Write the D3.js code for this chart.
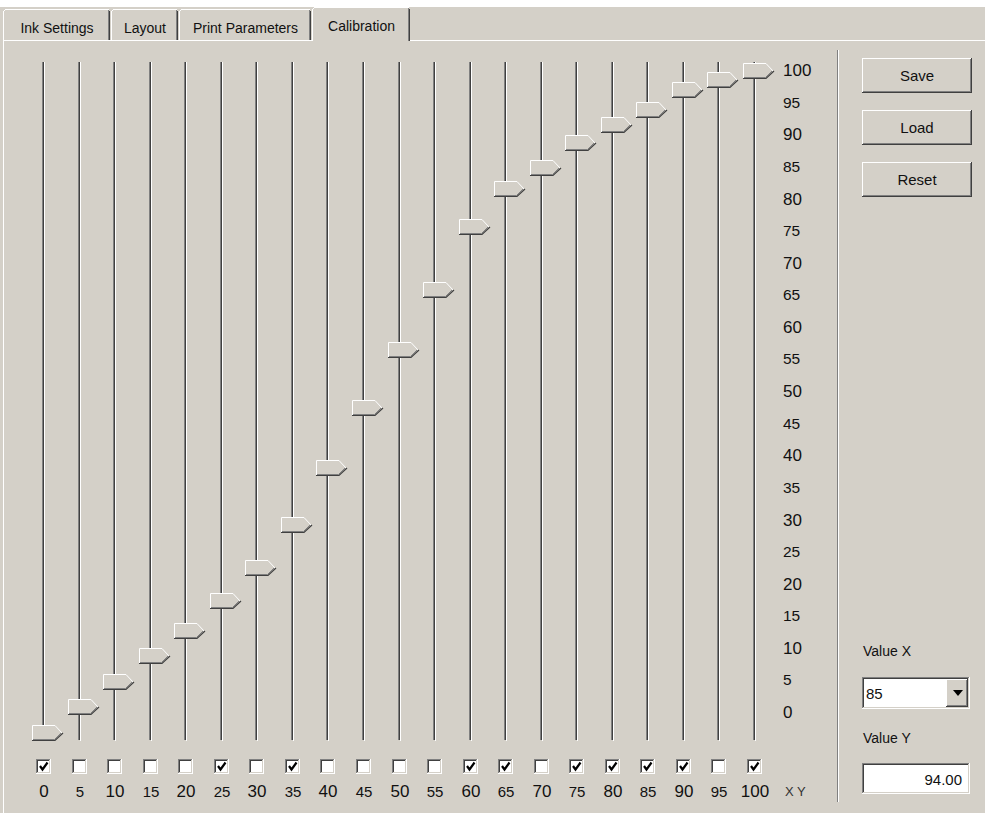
<!DOCTYPE html>
<meta charset="utf-8">
<style>
  body { margin: 0; background: #d4d0c8; }
  svg { display: block; font-family: "Liberation Sans", Arial, sans-serif; }
</style>
<script src="https://cdn.jsdelivr.net/npm/d3@7"></script>
<div id="panel"></div>
<script>
const xLevels = [0, 5, 10, 15, 20, 25, 30, 35, 40, 45, 50, 55, 60, 65, 70, 75, 80, 85, 90, 95, 100];
const yLevels = [0, 3.9, 7.7, 11.6, 15.3, 19.9, 24.9, 31.4, 40.0, 49.0, 57.8, 66.9, 76.4, 82.1, 85.3, 89.1, 91.8, 94.0, 97.1, 98.6, 100];
const enabled = [1, 0, 0, 0, 0, 1, 0, 1, 0, 0, 0, 0, 1, 1, 0, 1, 1, 1, 1, 0, 1];
const scaleTicks = [0, 5, 10, 15, 20, 25, 30, 35, 40, 45, 50, 55, 60, 65, 70, 75, 80, 85, 90, 95, 100];
const tabNames = ["Ink Settings", "Layout", "Print Parameters", "Calibration"];
const buttonNames = ["Save", "Load", "Reset"];
const selectedX = 85;

var W = 985, H = 813;
var FACE = "#d4d0c8", SHADOW = "#808080", DARK = "#404040";

var svg = d3.select("#panel").append("svg")
    .attr("width", W)
    .attr("height", H)
    .attr("shape-rendering", "crispEdges");

// scales
var x = d3.scalePoint().domain(xLevels).range([44, 755]);
var yThumb = d3.scaleLinear().domain([0, 100]).range([732.5, 70.7]);
var yLabel = d3.scaleLinear().domain([0, 100]).range([712, 70]);

// 3D box like the old windows controls
function bevel(g, bx, by, w, h, sunken, fill) {
    var o1 = sunken ? SHADOW : "#ffffff", o2 = sunken ? "#ffffff" : DARK;
    var i1 = sunken ? DARK : FACE, i2 = sunken ? FACE : SHADOW;
    g.append("rect").attr("x", bx).attr("y", by).attr("width", w).attr("height", h).attr("fill", fill || FACE);
    g.append("path").attr("d", `M${bx + .5},${by + h - 1}V${by + .5}H${bx + w - 1}`).attr("stroke", o1).attr("fill", "none");
    g.append("path").attr("d", `M${bx},${by + h - .5}H${bx + w - .5}V${by}`).attr("stroke", o2).attr("fill", "none");
    g.append("path").attr("d", `M${bx + 1.5},${by + h - 2}V${by + 1.5}H${bx + w - 2}`).attr("stroke", i1).attr("fill", "none");
    g.append("path").attr("d", `M${bx + 1},${by + h - 1.5}H${bx + w - 1.5}V${by + 1}`).attr("stroke", i2).attr("fill", "none");
}

/**
 * tab strip
 */
var tabEdges = [3, 111, 179, 312, 411];
var sel = tabNames.length - 1;
svg.append("rect").attr("x", 0).attr("y", 0).attr("width", W).attr("height", 7).attr("fill", "#ffffff");

var tabs = svg.append("g");
tabNames.forEach(function(name, i) {
    var x0 = tabEdges[i], x1 = tabEdges[i + 1];
    var top = i === sel ? 7 : 9;
    var bot = i === sel ? 41 : 40;
    var t = tabs.append("g");
    t.append("rect").attr("x", x0).attr("y", top).attr("width", x1 - x0).attr("height", bot - top).attr("fill", FACE);
    t.append("path").attr("d", `M${x0 + .5},${bot}V${top + 2.5}L${x0 + 2.5},${top + .5}H${x1 - 2}`)
        .attr("stroke", "#ffffff").attr("fill", "none");
    t.append("path").attr("d", `M${x1 - 1.5},${top + 2}V${bot}`).attr("stroke", DARK).attr("fill", "none");
    t.append("path").attr("d", `M${x1 - 2.5},${top + 1}V${bot}`).attr("stroke", SHADOW).attr("fill", "none");
    t.append("text")
        .attr("x", (x0 + x1) / 2)
        .attr("y", i === sel ? 31 : 33)
        .attr("text-anchor", "middle")
        .attr("font-size", 14)
        .attr("fill", "#111")
        .text(name);
});

// panel border (white top line broken under the selected tab) and left edge
svg.append("path").attr("d", `M3.5,${H}V40.5H${tabEdges[sel]}M${tabEdges[sel + 1] - 1},40.5H${W}`)
    .attr("stroke", "#ffffff").attr("fill", "none");

/**
 * slider tracks
 */
var tracks = svg.append("g").attr("class", "tracks");
tracks.selectAll("g").data(xLevels).enter().append("g")
    .each(function(d) {
        var g = d3.select(this), cx = Math.round(x(d));
        g.append("line").attr("x1", cx - 1.5).attr("x2", cx - 1.5).attr("y1", 62).attr("y2", 740).attr("stroke", SHADOW);
        g.append("line").attr("x1", cx - .5).attr("x2", cx - .5).attr("y1", 62).attr("y2", 740).attr("stroke", DARK);
        g.append("line").attr("x1", cx + .5).attr("x2", cx + .5).attr("y1", 62).attr("y2", 741).attr("stroke", "#ffffff");
    });

/**
 * thumbs, pointing right at the value scale
 */
var thumbs = svg.append("g").attr("class", "thumbs").attr("shape-rendering", "auto");
thumbs.selectAll("g").data(xLevels).enter().append("g")
    .each(function(d, i) {
        var g = d3.select(this);
        var cx = Math.round(x(d)), cy = Math.round(yThumb(yLevels[i]));
        var L = cx - 12, R = cx + 11, tip = cx + 19, T = cy - 8, B = cy + 8;
        g.append("path").attr("d", `M${L},${T}H${R}L${tip},${cy}L${R},${B}H${L}Z`).attr("fill", FACE);
        g.append("path").attr("d", `M${L + .5},${B - 1}V${T + .5}H${R}L${tip - 1},${cy}`)
            .attr("stroke", "#ffffff").attr("fill", "none");
        g.append("path").attr("d", `M${tip - 2},${cy}L${R - .5},${B - 1.5}H${L + 1}`)
            .attr("stroke", SHADOW).attr("fill", "none");
        g.append("path").attr("d", `M${tip},${cy}L${R},${B - .5}H${L}`)
            .attr("stroke", DARK).attr("stroke-width", 1.2).attr("fill", "none");
    });

/**
 * value scale on the right of the sliders
 */
svg.append("g").attr("class", "y-labels")
    .selectAll("text").data(scaleTicks).enter().append("text")
    .attr("x", 783)
    .attr("y", d => yLabel(d))
    .attr("dy", "0.36em")
    .attr("font-size", d => d % 10 === 0 ? 17 : 15.5)
    .attr("fill", "#111")
    .text(d => d);

/**
 * checkboxes + level labels
 */
var boxes = svg.append("g").attr("class", "checks");
boxes.selectAll("g").data(xLevels).enter().append("g")
    .each(function(d, i) {
        var g = d3.select(this), cx = Math.round(x(d));
        bevel(g, cx - 8, 759, 15, 15, true, "#ffffff");
        if (enabled[i]) {
            g.append("path")
                .attr("d", `M${cx - 4},${766}L${cx - 1.5},${769.5}L${cx + 3.5},${762.5}`)
                .attr("stroke", "#000").attr("stroke-width", 2.2).attr("fill", "none")
                .attr("shape-rendering", "auto");
        }
        g.append("text")
            .attr("x", cx)
            .attr("y", 797)
            .attr("text-anchor", "middle")
            .attr("font-size", d % 10 === 0 ? 17 : 15)
            .attr("fill", "#111")
            .text(d);
    });
svg.append("text").attr("x", 785).attr("y", 796).attr("font-size", 13).attr("fill", "#333").text("X Y");

/**
 * right side: separator, buttons, value fields
 */
svg.append("line").attr("x1", 837.5).attr("x2", 837.5).attr("y1", 50).attr("y2", 802).attr("stroke", SHADOW);
svg.append("line").attr("x1", 838.5).attr("x2", 838.5).attr("y1", 50).attr("y2", 802).attr("stroke", "#ffffff");

var btns = svg.append("g").attr("class", "buttons");
buttonNames.forEach(function(name, i) {
    var g = btns.append("g"), by = 58 + i * 52;
    bevel(g, 862, by, 110, 35, false);
    g.append("text")
        .attr("x", 917).attr("y", by + 17.5).attr("dy", "0.36em")
        .attr("text-anchor", "middle").attr("font-size", 15).attr("fill", "#111")
        .text(name);
});

var fields = svg.append("g").attr("class", "fields");
fields.append("text").attr("x", 863).attr("y", 656).attr("font-size", 14).attr("fill", "#111").text("Value X");
bevel(fields, 862, 677, 108, 32, true, "#ffffff");
fields.append("text").attr("x", 866).attr("y", 699).attr("font-size", 15).attr("fill", "#111").text(selectedX);
var dd = fields.append("g");
bevel(dd, 946, 679, 22, 28, false);
dd.append("path").attr("d", "M953,690H963L958,696Z").attr("fill", "#000").attr("shape-rendering", "auto");

fields.append("text").attr("x", 863).attr("y", 743).attr("font-size", 14).attr("fill", "#111").text("Value Y");
bevel(fields, 862, 763, 108, 31, true, "#ffffff");
fields.append("text").attr("x", 962).attr("y", 785).attr("text-anchor", "end").attr("font-size", 15).attr("fill", "#111")
    .text(d3.format(".2f")(yLevels[xLevels.indexOf(selectedX)]));
</script>
